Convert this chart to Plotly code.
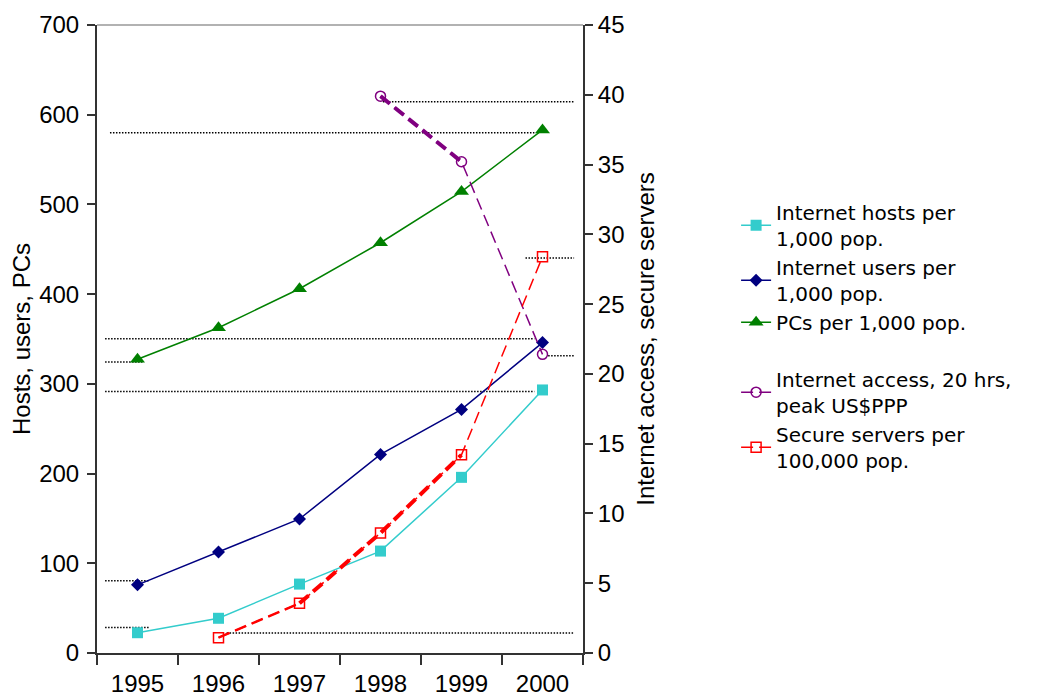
import plotly.graph_objects as go

# ---------------- data ----------------
years = ["1995", "1996", "1997", "1998", "1999", "2000"]
hosts = [22.6, 38.7, 76.8, 113.6, 195.8, 293.2]          # Internet hosts per 1,000 pop. (left)
users = [76.0, 112.5, 149.4, 221.3, 271.5, 346.0]        # Internet users per 1,000 pop. (left)
pcs = [327.5, 362.5, 406.0, 457.3, 514.4, 583.0]         # PCs per 1,000 pop. (left)

access_years = ["1998", "1999", "2000"]
access = [39.9, 35.2, 21.4]                              # Internet access, 20 hrs (right)
secure_years = ["1996", "1997", "1998", "1999", "2000"]
secure = [1.1, 3.56, 8.6, 14.2, 28.4]                    # Secure servers per 100,000 pop. (right)

# dotted guide levels seen in the picture
guide_left = [580.0, 350.3, 324.3, 291.5, 80.6, 28.4]
guide_right = [39.5, 28.3, 21.3, 1.44]

left_ticks = [0, 100, 200, 300, 400, 500, 600, 700]
right_ticks = [0, 5, 10, 15, 20, 25, 30, 35, 40, 45]

# ---------------- figure ----------------
CYAN, NAVY, GREEN, PURPLE, RED = "#33CCCC", "#000080", "#008000", "#800080", "#FF0000"
fig = go.Figure()

fig.add_trace(go.Scatter(x=years, y=hosts, name="Internet hosts per<br>1,000 pop.",
                         mode="lines+markers", legendgroup="a",
                         line=dict(color=CYAN, width=1.5),
                         marker=dict(symbol="square", size=11, color=CYAN)))
fig.add_trace(go.Scatter(x=years, y=users, name="Internet users per<br>1,000 pop.",
                         mode="lines+markers", legendgroup="a",
                         line=dict(color=NAVY, width=1.5),
                         marker=dict(symbol="diamond", size=10, color=NAVY)))
fig.add_trace(go.Scatter(x=years, y=pcs, name="PCs per 1,000 pop.",
                         mode="lines+markers", legendgroup="a",
                         line=dict(color=GREEN, width=1.5),
                         marker=dict(symbol="triangle-up", size=13, color=GREEN)))

# thick dashed overlay segments (no legend)
fig.add_trace(go.Scatter(x=access_years[:2], y=access[:2], yaxis="y2", mode="lines",
                         showlegend=False, legendgroup="b", hoverinfo="skip",
                         line=dict(color=PURPLE, width=4, dash="12px,6px")))
fig.add_trace(go.Scatter(x=secure_years[:2], y=secure[:2], yaxis="y2", mode="lines",
                         showlegend=False, legendgroup="b", hoverinfo="skip",
                         line=dict(color=RED, width=2.5, dash="12px,6px")))
fig.add_trace(go.Scatter(x=secure_years[1:4], y=secure[1:4], yaxis="y2", mode="lines",
                         showlegend=False, legendgroup="b", hoverinfo="skip",
                         line=dict(color=RED, width=4, dash="12px,6px")))

fig.add_trace(go.Scatter(x=access_years, y=access, yaxis="y2",
                         name="Internet access, 20 hrs,<br>peak US$PPP",
                         mode="lines+markers", legendgroup="b",
                         line=dict(color=PURPLE, width=1.5, dash="12px,6px"),
                         marker=dict(symbol="circle-open", size=10, color=PURPLE,
                                     line=dict(width=1.5, color=PURPLE))))
fig.add_trace(go.Scatter(x=secure_years, y=secure, yaxis="y2",
                         name="Secure servers per<br>100,000 pop.",
                         mode="lines+markers", legendgroup="b",
                         line=dict(color=RED, width=1.5, dash="12px,6px"),
                         marker=dict(symbol="square-open", size=10, color=RED,
                                     line=dict(width=1.5, color=RED))))

# dotted guide lines
left_spans = [(-0.34, 4.9), (-0.4, 4.9), (-0.4, 0.06), (-0.4, 4.9), (-0.4, 0.15), (-0.4, 0.15)]
right_spans = [(3.03, 5.39), (4.79, 5.39), (5.07, 5.39), (1.1, 5.39)]
shapes = []
for v, (a, b) in zip(guide_left, left_spans):
    shapes.append(dict(type="line", xref="x", yref="y", x0=a, x1=b, y0=v, y1=v,
                       line=dict(color="black", width=1.5, dash="1.5px,1.5px"), layer="below"))
for v, (a, b) in zip(guide_right, right_spans):
    shapes.append(dict(type="line", xref="x", yref="y2", x0=a, x1=b, y0=v, y1=v,
                       line=dict(color="black", width=1.5, dash="1.5px,1.5px"), layer="below"))
# top border
shapes.append(dict(type="line", xref="paper", yref="paper", x0=0, x1=1, y0=1, y1=1,
                   line=dict(color="#999999", width=1.5)))

TICKFONT = dict(family="Liberation Sans, Arial, sans-serif", size=24, color="black")

fig.update_layout(
    width=1052, height=700,
    margin=dict(l=89, r=477, t=17, b=55, autoexpand=False),
    plot_bgcolor="white", paper_bgcolor="white",
    font=dict(family="Liberation Sans, Arial, sans-serif", size=24, color="black"),
    shapes=shapes,
    showlegend=True,
    legend=dict(x=1.315, xanchor="left", y=0.733, yanchor="top",
                font=dict(family="DejaVu Sans, Verdana, sans-serif", size=20, color="black"),
                tracegroupgap=28, itemwidth=30, bgcolor="rgba(0,0,0,0)"),
    xaxis=dict(type="category", range=[-0.5, 5.5], tickson="boundaries",
               ticks="outside", ticklen=10, tickwidth=1.5, tickcolor="#333333",
               ticklabelstandoff=8,
               showline=True, linecolor="#333333", linewidth=2,
               showgrid=False, zeroline=False, tickfont=TICKFONT),
    yaxis=dict(range=[0, 700], tickvals=left_ticks, ticks="outside", ticklen=8,
               tickwidth=1.5, tickcolor="#333333", ticklabeloverflow="allow",
               ticklabelstandoff=3,
               showline=True, linecolor="#333333", linewidth=2,
               showgrid=False, zeroline=False, tickfont=TICKFONT,
               title=dict(text="Hosts, users, PCs", font=TICKFONT, standoff=12)),
    yaxis2=dict(range=[0, 45], tickvals=right_ticks, overlaying="y", side="right",
                ticks="outside", ticklen=8, tickwidth=1.5, tickcolor="#333333",
                ticklabeloverflow="allow",
                showline=True, linecolor="#333333", linewidth=2,
                showgrid=False, zeroline=False, tickfont=TICKFONT,
                title=dict(text="Internet access, secure servers", font=TICKFONT, standoff=14)),
)

fig.write_html("out.html")
